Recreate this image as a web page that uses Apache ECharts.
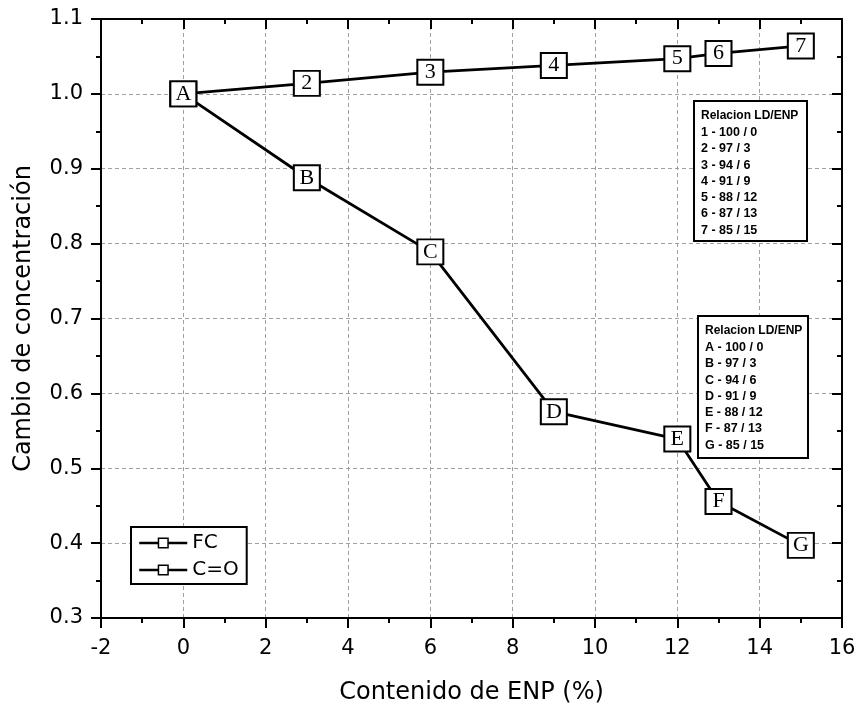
<!DOCTYPE html>
<html>
<head>
<meta charset="utf-8">
<script src="https://cdn.jsdelivr.net/npm/echarts@6/dist/echarts.min.js"></script>
<style>html,body{margin:0;padding:0;background:#fff}#c{width:859px;height:712px}</style>
</head>
<body>
<div id="c"></div>
<script>
// ---- data ----
const enp = [0, 3, 6, 9, 12, 13, 15];
const fcValues = [1.0, 1.014, 1.029, 1.038, 1.047, 1.054, 1.064];
const coValues = [1.0, 0.888, 0.789, 0.5755, 0.539, 0.4555, 0.397];
const fcLabels = ['1', '2', '3', '4', '5', '6', '7'];
const coLabels = ['A', 'B', 'C', 'D', 'E', 'F', 'G'];
const fcBoxLines = ['1 - 100 / 0', '2 - 97 / 3', '3 - 94 / 6', '4 - 91 / 9', '5 - 88 / 12', '6 - 87 / 13', '7 - 85 / 15'];
const coBoxLines = ['A - 100 / 0', 'B - 97 / 3', 'C - 94 / 6', 'D - 91 / 9', 'E - 88 / 12', 'F - 87 / 13', 'G - 85 / 15'];
const boxTitle = 'Relacion LD/ENP';

const chart = echarts.init(document.getElementById('c'), null, {renderer: 'canvas'});
const SANS = 'Liberation Sans, Arial, sans-serif';
const WIDE = 'DejaVu Sans, sans-serif';
const SERIF = 'Liberation Serif, Times New Roman, serif';

function pairs(xs, ys) { return xs.map((x, i) => [x, ys[i]]); }

function mkSeries(name, ys, labels, z) {
  return {
    name: name, type: 'line', z: z,
    data: pairs(enp, ys),
    symbol: 'rect', symbolSize: [26, 25],
    lineStyle: {color: '#000', width: 2.8},
    itemStyle: {color: '#fff', borderColor: '#000', borderWidth: 2},
    label: {show: true, position: 'inside', color: '#000', fontFamily: SERIF, fontSize: 22,
      formatter: p => labels[p.dataIndex]},
    emphasis: {disabled: true},
    xAxisIndex: 0, yAxisIndex: 0
  };
}

function boxGraphic(x, y, w, h, lines) {
  const children = [{type: 'rect', z: 100, shape: {x: 0, y: 0, width: w, height: h},
    style: {fill: '#fff', stroke: '#000', lineWidth: 2}}];
  children.push({type: 'text', z: 101, x: 7, y: 9, style: {text: boxTitle, font: 'bold 12px ' + SANS, fill: '#000'}});
  lines.forEach((t, i) => {
    children.push({type: 'text', z: 101, x: 7, y: 25 + i * 16.3,
      style: {text: t, font: 'bold 12.5px ' + SANS, fill: '#000'}});
  });
  return {type: 'group', left: x, top: y, z: 100, children: children};
}

const tickOut = {length: 10, lineStyle: {color: '#000', width: 2}};
const minorOut = {show: true, splitNumber: 2, length: 5, lineStyle: {color: '#000', width: 2}};
const tickIn = {inside: true, length: 10, lineStyle: {color: '#000', width: 2}};
const axLine = {onZero: false, lineStyle: {color: '#000', width: 2}};
const grid = {show: true, lineStyle: {color: '#a0a0a0', type: [4, 3], width: 1}};

const option = {
  animation: false,
  backgroundColor: '#fff',
  grid: {left: 101, right: 17, top: 19, bottom: 94, containLabel: false},
  xAxis: [
    {
      type: 'value', min: -2, max: 16, interval: 2, position: 'bottom',
      axisLine: axLine, axisTick: tickOut, minorTick: minorOut,
      name: 'Contenido de ENP (%)', nameLocation: 'middle', nameGap: 63,
      nameTextStyle: {fontFamily: WIDE, fontSize: 24, color: '#000'},
      axisLabel: {fontFamily: WIDE, fontSize: 21, color: '#000', margin: 20},
      splitLine: grid
    },
    {
      type: 'value', min: -2, max: 16, interval: 2, position: 'top',
      axisLine: axLine, axisTick: tickIn, minorTick: minorOut,
      axisLabel: {show: false}, splitLine: {show: false}
    }
  ],
  yAxis: [
    {
      type: 'value', min: 0.3, max: 1.1, interval: 0.1, position: 'left',
      axisLine: axLine, axisTick: tickOut, minorTick: minorOut,
      name: 'Cambio de concentración', nameLocation: 'middle', nameGap: 65,
      nameTextStyle: {fontFamily: WIDE, fontSize: 24, color: '#000'},
      axisLabel: {fontFamily: WIDE, fontSize: 21, color: '#000', margin: 18, formatter: v => v.toFixed(1)},
      splitLine: grid
    },
    {
      type: 'value', min: 0.3, max: 1.1, interval: 0.1, position: 'right',
      axisLine: axLine, axisTick: tickIn, minorTick: minorOut,
      axisLabel: {show: false}, splitLine: {show: false}
    }
  ],
  legend: {
    orient: 'vertical', left: 131, top: 527,
    data: ['FC', 'C=O'],
    itemWidth: 48, itemHeight: 12, itemGap: 7,
    padding: [6, 8, 4, 7],
    borderColor: '#000', borderWidth: 2, backgroundColor: '#fff',
    lineStyle: {width: 2.5, color: '#000'},
    itemStyle: {color: '#fff', borderColor: '#000', borderWidth: 1.5},
    textStyle: {fontFamily: WIDE, fontSize: 20, color: '#000', lineHeight: 20},
    selectedMode: false
  },
  series: [
    mkSeries('FC', fcValues, fcLabels, 2),
    mkSeries('C=O', coValues, coLabels, 3)
  ],
  graphic: [
    boxGraphic(693, 100, 113, 140, fcBoxLines),
    boxGraphic(697, 315, 110, 142, coBoxLines)
  ]
};
chart.setOption(option);
</script>
</body>
</html>
